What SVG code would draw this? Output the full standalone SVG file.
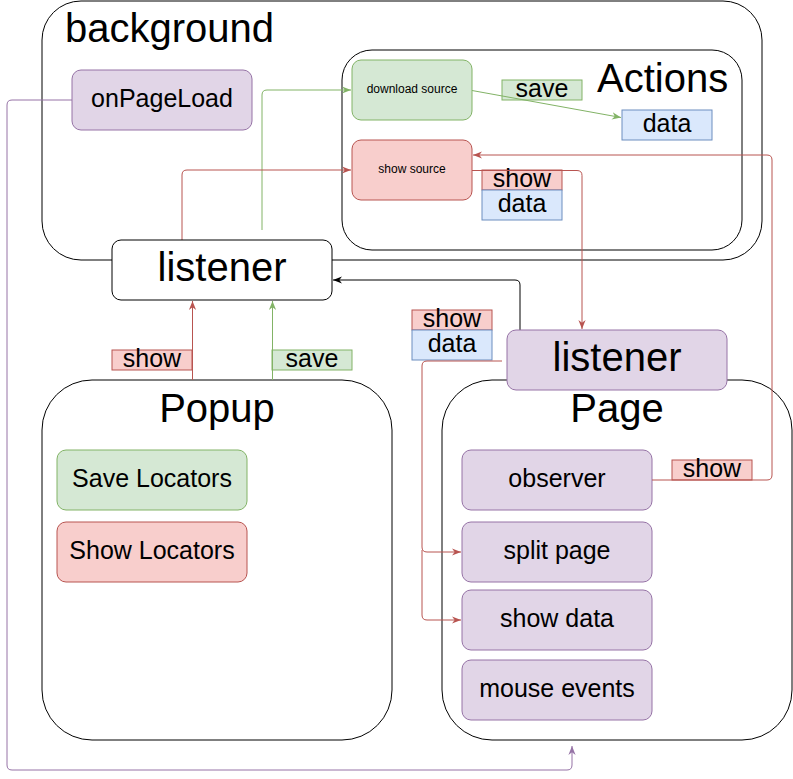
<svg xmlns="http://www.w3.org/2000/svg" width="793" height="779" viewBox="0 0 793 779">
<style>
text{font-family:"Liberation Sans",Arial,Helvetica,sans-serif;fill:#000}
.c{fill:#fff;stroke:#000;stroke-width:1}
.pu{fill:#e1d5e7;stroke:#9673a6;stroke-width:1}
.gr{fill:#d5e8d4;stroke:#82b366;stroke-width:1}
.rd{fill:#f8cecc;stroke:#b85450;stroke-width:1}
.bl{fill:#dae8fc;stroke:#6c8ebf;stroke-width:1}
.t40{font-size:40px}
.t25{font-size:25px}
.t12{font-size:12px}
.m{text-anchor:middle}
.e{fill:none;stroke-width:1}
.er{stroke:#b85450}
.eg{stroke:#82b366}
.ek{stroke:#000}
.ep{stroke:#9673a6}
</style>
<defs>
<marker id="aR" viewBox="0 0 10 10" refX="10" refY="5" markerWidth="9" markerHeight="9" markerUnits="userSpaceOnUse" orient="auto"><path d="M0,1 L10,5 L0,9 L3,5 z" fill="#b85450"/></marker>
<marker id="aG" viewBox="0 0 10 10" refX="10" refY="5" markerWidth="9" markerHeight="9" markerUnits="userSpaceOnUse" orient="auto"><path d="M0,1 L10,5 L0,9 L3,5 z" fill="#82b366"/></marker>
<marker id="aK" viewBox="0 0 10 10" refX="10" refY="5" markerWidth="9" markerHeight="9" markerUnits="userSpaceOnUse" orient="auto"><path d="M0,1 L10,5 L0,9 L3,5 z" fill="#000"/></marker>
<marker id="aP" viewBox="0 0 10 10" refX="10" refY="5" markerWidth="9" markerHeight="9" markerUnits="userSpaceOnUse" orient="auto"><path d="M0,1 L10,5 L0,9 L3,5 z" fill="#9673a6"/></marker>
</defs>

<g id="background">
<rect class="c" x="42" y="1" width="720" height="259" rx="39"/>
<text class="t40" x="65" y="42">background</text>
</g>
<g id="actions">
<rect class="c" x="342" y="50" width="400" height="200" rx="30"/>
<text class="t40" x="597" y="92">Actions</text>
</g>
<g id="popup">
<rect class="c" x="42" y="380" width="350" height="360" rx="50"/>
<text class="t40 m" x="217" y="421.7">Popup</text>
</g>
<g id="page">
<rect class="c" x="442" y="380" width="350" height="360" rx="50"/>
<text class="t40 m" x="617" y="421.7">Page</text>
</g>

<g id="onPageLoad">
<rect class="pu" x="72" y="70" width="180" height="60" rx="9"/>
<text class="t25 m" x="162" y="106.8">onPageLoad</text>
</g>
<g id="downloadSource">
<rect class="gr" x="352" y="60" width="120" height="60" rx="9"/>
<text class="t12 m" x="412" y="93.2">download source</text>
</g>
<g id="showSource">
<rect class="rd" x="352" y="140" width="120" height="60" rx="9"/>
<text class="t12 m" x="412" y="173.2">show source</text>
</g>
<g id="dataTop">
<rect class="bl" x="622" y="110" width="90" height="30"/>
<text class="t25 m" x="667" y="131.8">data</text>
</g>
<g id="saveLocators">
<rect class="gr" x="57" y="450" width="190" height="60" rx="9"/>
<text class="t25 m" x="152" y="486.8">Save Locators</text>
</g>
<g id="showLocators">
<rect class="rd" x="57" y="522" width="190" height="60" rx="9"/>
<text class="t25 m" x="152" y="558.8">Show Locators</text>
</g>
<g id="observer">
<rect class="pu" x="462" y="450" width="190" height="60" rx="9"/>
<text class="t25 m" x="557" y="486.8">observer</text>
</g>
<g id="splitPage">
<rect class="pu" x="462" y="522" width="190" height="60" rx="9"/>
<text class="t25 m" x="557" y="558.8">split page</text>
</g>
<g id="showData">
<rect class="pu" x="462" y="590" width="190" height="60" rx="9"/>
<text class="t25 m" x="557" y="626.8">show data</text>
</g>
<g id="mouseEvents">
<rect class="pu" x="462" y="660" width="190" height="60" rx="9"/>
<text class="t25 m" x="557" y="696.8">mouse events</text>
</g>

<g id="labels">
<rect class="gr" x="502" y="80" width="80" height="20"/>
<text class="t25 m" x="542" y="96.8">save</text>
<rect class="rd" x="482" y="170" width="80" height="20"/>
<text class="t25 m" x="522" y="186.8">show</text>
<rect class="bl" x="482" y="190" width="80" height="30"/>
<text class="t25 m" x="522" y="211.8">data</text>
<rect class="rd" x="112" y="350" width="80" height="20"/>
<text class="t25 m" x="152" y="366.8">show</text>
<rect class="gr" x="272" y="350" width="80" height="20"/>
<text class="t25 m" x="312" y="366.8">save</text>
<rect class="rd" x="412" y="310" width="80" height="20"/>
<text class="t25 m" x="452" y="326.8">show</text>
<rect class="bl" x="412" y="330" width="80" height="30"/>
<text class="t25 m" x="452" y="351.8">data</text>
<rect class="rd" x="672" y="460" width="80" height="20"/>
<text class="t25 m" x="712" y="476.8">show</text>
</g>

<g id="connectors">
<path class="e eg" d="M472,90.5 L621,117.5" marker-end="url(#aG)"/>
<path class="e eg" d="M262,230 V95 Q262,90 267,90 H351" marker-end="url(#aG)"/>
<path class="e er" d="M182,240 V175 Q182,170 187,170 H351" marker-end="url(#aR)"/>
<path class="e er" d="M472,170.5 H577 Q582,170.5 582,175.5 V329" marker-end="url(#aR)"/>
<path class="e er" d="M652,480 H767 Q772,480 772,475 V160 Q772,155 767,155 H473" marker-end="url(#aR)"/>
<path class="e ek" d="M520,330 V285 Q520,280 515,280 H333" marker-end="url(#aK)"/>
<path class="e er" d="M502,361 H427 Q422,361 422,366 V547 Q422,552 427,552 H461" marker-end="url(#aR)"/>
<path class="e er" d="M422,550 V615 Q422,620 427,620 H461" marker-end="url(#aR)"/>
<path class="e er" d="M192.5,380 V301" marker-end="url(#aR)"/>
<path class="e eg" d="M272.5,380 V301" marker-end="url(#aG)"/>
<path class="e ep" d="M72,100 H12 Q7,100 7,105 V765 Q7,770 12,770 H567 Q572,770 572,765 V746" marker-end="url(#aP)"/>
</g>

<g id="listenerBg">
<rect class="c" x="112" y="240" width="220" height="60" rx="9"/>
<text class="t40 m" x="222" y="281">listener</text>
</g>
<g id="listenerPage">
<rect class="pu" x="507" y="330" width="220" height="60" rx="9"/>
<text class="t40 m" x="617" y="370.8">listener</text>
</g>
</svg>
